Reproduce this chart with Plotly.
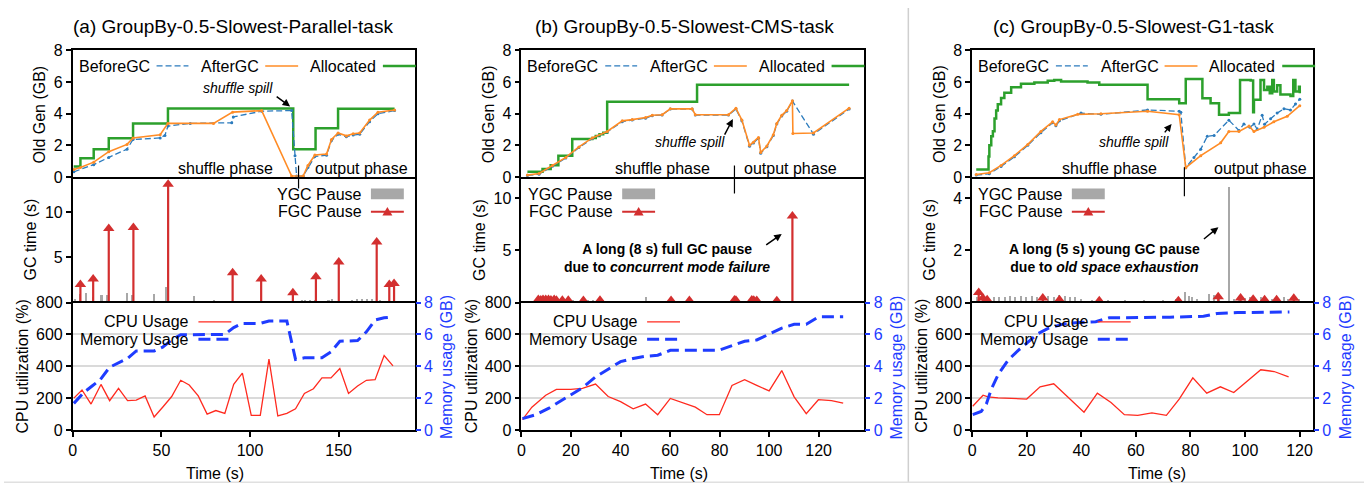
import plotly.graph_objects as go

# ---------------- data ----------------
panel_titles = ["(a) GroupBy-0.5-Slowest-Parallel-task",
                "(b) GroupBy-0.5-Slowest-CMS-task",
                "(c) GroupBy-0.5-Slowest-G1-task"]
x_ranges = [[0, 193], [0, 138.5], [0, 125]]
x_ticks = [[0, 50, 100, 150], [0, 20, 40, 60, 80, 100, 120], [0, 20, 40, 60, 80, 100, 120]]
gc_ranges = [13.9, 12.04, 4.81]
gc_ticks = [[5, 10], [5, 10], [2, 4]]
oldgen_ticks = [0, 2, 4, 6, 8]
cpu_ticks = [0, 200, 400, 600, 800]
mem_ticks = [0, 2, 4, 6, 8]
phase_split = [127.4, 86.0, 77.8]

# (a) Parallel
a_alloc_t = [0.5, 4.3, 11.8, 20.3, 34.0, 53.7, 124.4, 137.0, 149.7, 181.6]
a_alloc_v = [0.67, 1.18, 1.75, 2.45, 3.39, 4.33, 1.75, 3.08, 4.31, 4.31]
a_after_t = [0.6, 4.3, 11.8, 20.3, 30.6, 34.0, 49.3, 53.7, 79.4, 90.2, 106.6, 123.5, 130.0, 132.7,
             136.6, 143.2, 146.0, 149.7, 154.4, 158.2, 161.9, 167.5, 172.2, 181.6]
a_after_v = [0.47, 0.6, 0.94, 1.6, 2.06, 2.47, 2.67, 3.39, 3.39, 4.1, 4.2, 0.06, 0.06, 0.73,
             1.39, 1.45, 2.37, 2.78, 2.6, 2.73, 2.78, 3.6, 4.1, 4.24]
a_before_t = [0.6, 11.8, 20.3, 30.6, 34.0, 49.3, 52.0, 53.7, 66.3, 89.7, 90.6, 106.6, 123.5, 125.4,
              126.3, 130.0, 132.7, 136.6, 143.2, 146.0, 149.7, 154.4, 158.2, 161.9, 167.5, 172.2, 181.6]
a_before_v = [0.33, 0.78, 1.24, 1.76, 2.37, 2.47, 2.63, 3.22, 3.39, 3.43, 3.8, 4.16, 4.2, 1.35,
              0.06, 0.06, 0.6, 1.3, 1.38, 2.3, 2.7, 2.55, 2.65, 2.7, 3.5, 4.0, 4.2]
a_ygc_t = [1.5, 4.3, 7.7, 11.5, 16.2, 19.4, 30.6, 33.5, 46.0, 52.6, 68.6, 79.9, 90.8, 126.5, 129.3,
           131.2, 134.0, 136.9, 141.6, 144.3, 146.2, 149.0, 152.8, 157.5, 160.3, 163.2, 166.0,
           168.8, 173.5, 177.3, 181.0]
a_ygc_v = [0.43, 0.96, 1.04, 0.6, 0.79, 0.79, 1.07, 0.86, 0.96, 1.68, 0.71, 0.25, 0.2, 0.2, 0.25,
           0.3, 0.3, 0.25, 0.2, 0.3, 0.35, 0.2, 0.15, 0.3, 0.35, 0.4, 0.4, 0.35, 0.3, 0.2, 0.15]
a_fgc_t = [4.3, 11.5, 20.3, 34.2, 53.8, 90.2, 106.3, 124.2, 137.2, 150.1, 171.5, 178.6, 181.3]
a_fgc_v = [2.0, 2.6, 8.2, 8.3, 13.1, 3.3, 2.6, 1.07, 2.86, 4.5, 6.7, 2.0, 2.1]
a_cpu_t = [0.6, 5.2, 10.3, 15.9, 20.8, 25.8, 30.9, 35.8, 40.8, 45.9, 50.7, 55.8, 60.9, 65.7, 70.8,
           75.8, 80.7, 85.8, 90.8, 95.7, 100.7, 105.8, 110.7, 115.7, 120.8, 125.7, 130.7, 135.8,
           140.6, 145.7, 150.7, 155.6, 160.7, 165.7, 170.6, 175.7, 180.7]
a_cpu_v = [200, 251, 163, 286, 184, 261, 184, 188, 214, 82, 143, 210, 312, 282, 214, 100, 122, 104,
           286, 357, 92, 92, 445, 88, 104, 133, 229, 259, 327, 327, 386, 229, 276, 312, 316, 467, 402]
a_mem_t = [0.6, 6.2, 10.9, 15.5, 20.8, 25.8, 30.9, 35.8, 45.9, 50.7, 55.8, 60.9, 85.8, 90.8, 95.7,
           105.8, 110.7, 120.8, 125.7, 130.7, 140.6, 145.7, 150.7, 160.7, 165.7, 170.6, 175.7, 180.7]
a_mem_v = [1.67, 2.35, 2.76, 3.16, 3.94, 4.22, 4.49, 4.96, 4.96, 5.2, 5.65, 5.98, 6.0, 6.43, 6.69,
           6.69, 6.84, 6.84, 4.43, 4.53, 4.53, 4.9, 5.57, 5.61, 6.16, 6.9, 7.04, 7.1]

# (b) CMS
b_alloc_t = [2.4, 8.5, 11.8, 14.9, 20.5, 28.6, 30.0, 31.5, 33.0, 34.6, 70.9, 132.3]
b_alloc_v = [0.33, 0.5, 0.75, 1.35, 2.41, 2.47, 2.6, 2.7, 2.8, 4.76, 5.84, 5.84]
b_after_t = [2.4, 7.1, 12.5, 17.9, 23.2, 28.6, 34.6, 40.7, 44.7, 50.1, 52.8, 56.8, 60.1, 68.9, 70.2,
             83.6, 86.6, 89.0, 92.1, 93.7, 95.7, 96.6, 99.1, 101.7, 103.1, 105.1, 107.1, 109.4,
             109.6, 117.9, 132.3]
b_after_v = [0.12, 0.22, 0.73, 1.24, 1.9, 2.47, 2.88, 3.55, 3.63, 3.76, 3.9, 3.94, 4.31, 4.31, 3.94,
             3.94, 4.35, 3.6, 2.0, 2.2, 2.5, 1.55, 1.96, 2.67, 3.39, 3.9, 4.2, 4.82, 2.75, 2.78, 4.35]
b_before_t = [2.4, 7.1, 12.5, 17.9, 23.2, 28.6, 34.6, 40.7, 44.7, 50.1, 52.8, 56.8, 60.1, 68.9, 70.2,
              83.6, 86.6, 89.0, 92.1, 93.7, 95.7, 96.6, 99.1, 101.7, 103.1, 105.1, 107.1, 109.4,
              117.9, 132.3]
b_before_v = [0.1, 0.18, 0.68, 1.2, 1.86, 2.43, 2.85, 3.5, 3.6, 3.72, 3.88, 3.92, 4.3, 4.3, 3.92,
              3.92, 4.3, 3.55, 1.95, 2.15, 2.45, 1.5, 1.92, 2.62, 3.35, 3.85, 4.15, 4.8, 2.71, 4.3]
b_ygc_t = [5.5, 7, 8.5, 10, 11.5, 13, 15, 17, 19, 21, 23, 25, 27, 29, 31, 33, 35, 38, 41, 44, 50.7,
           57, 63, 70, 76, 85, 88, 92, 97, 103, 120, 123, 126, 129, 132]
b_ygc_v = [0.15, 0.2, 0.18, 0.2, 0.22, 0.2, 0.18, 0.2, 0.15, 0.2, 0.18, 0.22, 0.2, 0.25, 0.3, 0.2,
           0.15, 0.12, 0.1, 0.1, 0.49, 0.1, 0.1, 0.1, 0.1, 0.15, 0.12, 0.15, 0.1, 0.1, 0.1, 0.1,
           0.1, 0.1, 0.1]
b_fgc_t = [6.8, 7.8, 8.7, 9.8, 10.9, 11.9, 13.2, 14.1, 16.5, 18.9, 25.0, 31.7, 60.4, 67.8, 86.0,
           86.6, 93.0, 93.8, 95.0, 103.1, 109.4]
b_fgc_v = [0.3, 0.25, 0.3, 0.28, 0.3, 0.25, 0.28, 0.22, 0.22, 0.22, 0.2, 0.22, 0.2, 0.2, 0.25,
           0.22, 0.25, 0.22, 0.2, 0.18, 8.3]
b_cpu_t = [0.4, 4.2, 9.8, 14.1, 19.9, 24.6, 29.9, 35.0, 40.0, 45.1, 50.1, 55.0, 60.1, 65.1, 70.2,
           74.9, 79.9, 85.0, 90.1, 95.0, 100.0, 105.1, 110.1, 115.0, 119.9, 125.2, 129.9]
b_cpu_v = [65, 143, 218, 255, 255, 261, 288, 210, 178, 133, 163, 96, 198, 173, 143, 96, 96, 280,
           316, 280, 245, 373, 208, 102, 190, 184, 169]
b_mem_t = [0.4, 5.8, 11.1, 17.9, 24.6, 29.9, 35.3, 40.0, 45.1, 50.1, 55.0, 60.1, 79.6, 85.0, 90.1,
           95.0, 100.0, 105.1, 110.1, 115.0, 119.9, 129.9]
b_mem_v = [0.71, 0.96, 1.37, 2.04, 2.65, 3.33, 3.82, 4.29, 4.49, 4.63, 4.69, 5.0, 5.0, 5.31, 5.57,
           5.65, 6.02, 6.39, 6.63, 6.63, 7.1, 7.1]

# (c) G1
c_alloc_t = [1.5, 6.0, 6.3, 7.0, 7.6, 8.2, 8.8, 9.4, 10.6, 11.8, 14.3, 17.9, 22.8, 27.7, 30.1, 32.6,
             42.3, 46.6, 64.3, 75.9, 78.3, 84.4, 87.4, 90.5, 94.1, 98.2, 102.1, 103.0, 103.3, 105.7,
             107.0, 108.2, 109.1, 110.0, 110.6, 111.8, 113.0, 115.5, 116.7, 117.7, 118.5, 119.8, 120.1]
c_alloc_v = [0.47, 1.3, 2.0, 2.57, 2.9, 3.7, 4.2, 4.6, 5.0, 5.33, 5.67, 5.9, 5.98, 6.08, 6.14, 6.04,
             5.98, 5.84, 4.92, 4.67, 6.2, 4.98, 4.67, 3.94, 4.04, 6.14, 6.1, 4.1, 4.88, 6.14,
             5.5, 5.7, 5.3, 6.14, 5.4, 5.8, 5.22, 5.22, 5.12, 6.14, 5.4, 5.7, 5.3]
c_after_t = [1.5, 6.3, 10.6, 15.5, 20.4, 25.2, 29.5, 30.7, 32.0, 38.7, 47.2, 64.3, 75.9, 78.3, 83.8,
             91.1, 94.1, 97.8, 101.5, 103.3, 107.0, 110.6, 115.5, 120.1]
c_after_v = [0.16, 0.27, 0.73, 1.35, 2.06, 2.88, 3.49, 3.29, 3.63, 3.96, 4.0, 4.16, 3.94, 0.59, 1.35,
             2.16, 2.88, 2.88, 3.22, 2.88, 3.14, 3.49, 3.84, 4.51]
c_before_t = [1.5, 6.3, 10.6, 15.5, 20.4, 25.2, 29.5, 30.7, 32.0, 39.9, 47.2, 64.3, 75.9, 76.5, 78.3,
              81.3, 83.8, 86.2, 88.7, 94.1, 97.8, 99.6, 101.8, 103.3, 104.5, 106.3, 107.2, 109.4,
              111.8, 114.3, 116.7, 118.5, 120.1]
c_before_v = [0.12, 0.2, 0.67, 1.28, 2.0, 2.8, 3.43, 3.24, 3.55, 4.04, 3.96, 4.24, 4.16, 4.1, 0.59,
              1.24, 1.76, 2.57, 2.63, 3.59, 2.94, 3.35, 3.14, 3.35, 3.02, 3.9, 3.33, 3.69, 4.04,
              4.31, 4.24, 4.61, 4.92]
c_ygc_t = [2, 4, 6, 8, 10, 12, 14, 16, 18, 20, 22, 24, 26, 28, 30, 32, 34, 36, 38, 40, 44, 50, 56, 63,
           70, 75, 78.3, 79.5, 80.7, 82.5, 86.8, 88.7, 90.5, 94.1, 96, 98, 100, 102, 104, 106, 108,
           110, 112, 114.3, 116, 118, 120]
c_ygc_v = [0.2, 0.25, 0.15, 0.2, 0.22, 0.2, 0.25, 0.22, 0.26, 0.2, 0.24, 0.22, 0.28, 0.25, 0.22,
           0.27, 0.25, 0.2, 0.2, 0.15, 0.1, 0.08, 0.08, 0.08, 0.1, 0.15, 0.42, 0.26, 0.2, 0.15, 0.34,
           0.3, 0.2, 4.43, 0.15, 0.2, 0.18, 0.2, 0.15, 0.2, 0.18, 0.15, 0.2, 0.22, 0.15, 0.18, 0.15]
c_fgc_t = [2.4, 3.9, 5.5, 25.9, 32.0, 46.6, 75.6, 90.2, 98.4, 103.0, 107.2, 111.6, 117.9]
c_fgc_v = [0.38, 0.17, 0.11, 0.17, 0.11, 0.07, 0.07, 0.22, 0.17, 0.13, 0.11, 0.11, 0.16]
c_cpu_t = [0.2, 4.0, 5.8, 9.5, 20.0, 24.9, 29.9, 41.0, 45.9, 50.9, 55.8, 60.7, 65.9, 71.2, 75.9,
           80.9, 86.0, 91.0, 95.9, 100.9, 105.8, 110.7, 116.0]
c_cpu_v = [149, 218, 208, 202, 194, 271, 290, 112, 231, 173, 96, 92, 108, 92, 194, 327, 231, 271,
           235, 306, 378, 367, 333]
c_mem_t = [0.2, 3.3, 5.2, 7.0, 9.5, 13.2, 16.9, 20.6, 24.3, 28.0, 33.0, 37.9, 45.3, 50.2, 60.1,
           72.5, 84.8, 89.8, 97.2, 109.5, 116.3]
c_mem_v = [0.96, 1.16, 1.63, 2.55, 3.47, 4.39, 5.0, 5.51, 6.06, 6.39, 6.63, 6.73, 6.8, 7.04, 7.04,
           7.08, 7.14, 7.31, 7.37, 7.41, 7.41]

panels = [
    dict(alloc=(a_alloc_t, a_alloc_v), after=(a_after_t, a_after_v), before=(a_before_t, a_before_v),
         ygc=(a_ygc_t, a_ygc_v), fgc=(a_fgc_t, a_fgc_v), cpu=(a_cpu_t, a_cpu_v), mem=(a_mem_t, a_mem_v)),
    dict(alloc=(b_alloc_t, b_alloc_v), after=(b_after_t, b_after_v), before=(b_before_t, b_before_v),
         ygc=(b_ygc_t, b_ygc_v), fgc=(b_fgc_t, b_fgc_v), cpu=(b_cpu_t, b_cpu_v), mem=(b_mem_t, b_mem_v)),
    dict(alloc=(c_alloc_t, c_alloc_v), after=(c_after_t, c_after_v), before=(c_before_t, c_before_v),
         ygc=(c_ygc_t, c_ygc_v), fgc=(c_fgc_t, c_fgc_v), cpu=(c_cpu_t, c_cpu_v), mem=(c_mem_t, c_mem_v)),
]

# ---------------- layout constants ----------------
W, H = 1364, 495
FONT = "Liberation Sans, Arial, Helvetica, sans-serif"
FS = 16
L = [69, 519, 971]
R = [412, 863, 1313]
ROW_PX = [(44, 175), (175, 305), (305, 437)]
C_BEFORE = "#2b7bbd"
C_AFTER = "#ff8c26"
C_ALLOC = "#2ca02c"
C_YGC = "#a8a8a8"
C_FGC = "#d32f2f"
C_CPU = "#ff2a1f"
C_MEM = "#1f3cff"
BAR_W = [0.9, 0.55, 0.5]
LW = 1.8


def fx(p):
    return p / W


def fy(p):
    return 1 - p / H


def axname(letter, k):
    return f"{letter}axis" if k == 1 else f"{letter}axis{k}"


def axref(letter, k):
    return letter if k == 1 else f"{letter}{k}"


fig = go.Figure()
lay = {}
shapes = []
ann = []

for p in range(3):
    d = panels[p]
    for r in range(3):
        k = p * 3 + r + 1
        xa = dict(domain=[fx(L[p]), fx(R[p])], range=x_ranges[p], anchor=axref('y', k),
                  showline=True, mirror=True, linecolor='black', linewidth=LW,
                  showgrid=False, zeroline=False)
        if r == 0:
            xa.update(showticklabels=False, ticks='')
        elif r == 1:
            xa.update(showticklabels=False, ticks='', showline=False)
        else:
            xa.update(tickmode='array', tickvals=x_ticks[p], ticks='outside', ticklen=5,
                      tickwidth=1.5, tickcolor='black', tickfont=dict(size=FS, color='black'))
        ya = dict(domain=[fy(ROW_PX[r][1]), fy(ROW_PX[r][0])], anchor=axref('x', k),
                  showline=True, mirror=True, linecolor='black', linewidth=LW,
                  zeroline=False, ticks='outside', ticklen=5, tickwidth=1.5, tickcolor='black',
                  tickfont=dict(size=FS, color='black'), tickmode='array', showgrid=False)
        if r == 0:
            ya.update(range=[0, 8], tickvals=oldgen_ticks)
        elif r == 1:
            ya.update(range=[0, gc_ranges[p]], tickvals=gc_ticks[p])
        else:
            ya.update(range=[0, 800], tickvals=cpu_ticks, showgrid=True, gridcolor='#dadada',
                      gridwidth=1.5)
        lay[axname('x', k)] = xa
        lay[axname('y', k)] = ya

    # secondary memory axis
    kb = p * 3 + 3
    k2 = 10 + p
    lay[axname('y', k2)] = dict(overlaying=axref('y', kb), side='right', anchor=axref('x', kb),
                                range=[0, 8], tickmode='array', tickvals=mem_ticks,
                                ticks='outside', ticklen=5, tickwidth=1.5, tickcolor=C_MEM,
                                tickfont=dict(size=FS, color=C_MEM), showgrid=False,
                                zeroline=False, showline=False)

    kt, km = p * 3 + 1, p * 3 + 2
    xt, yt = axref('x', kt), axref('y', kt)
    xm, ym = axref('x', km), axref('y', km)
    xb, yb = axref('x', kb), axref('y', kb)
    y2 = axref('y', k2)

    # --- Old gen panel ---
    fig.add_trace(go.Scatter(x=d['alloc'][0], y=d['alloc'][1], mode='lines', line_shape='hv',
                             line=dict(color=C_ALLOC, width=2.5), xaxis=xt, yaxis=yt,
                             name='Allocated', showlegend=False))
    fig.add_trace(go.Scatter(x=d['before'][0], y=d['before'][1], mode='lines+markers',
                             line=dict(color=C_BEFORE, width=1.3, dash='6px,3px'),
                             marker=dict(size=3, color=C_BEFORE), xaxis=xt, yaxis=yt,
                             name='BeforeGC', showlegend=False))
    fig.add_trace(go.Scatter(x=d['after'][0], y=d['after'][1], mode='lines+markers',
                             line=dict(color=C_AFTER, width=1.6),
                             marker=dict(size=3, color=C_AFTER), xaxis=xt, yaxis=yt,
                             name='AfterGC', showlegend=False))

    # --- GC pause panel ---
    fig.add_trace(go.Bar(x=d['ygc'][0], y=d['ygc'][1], width=BAR_W[p],
                         marker=dict(color=C_YGC, line=dict(width=0)),
                         xaxis=xm, yaxis=ym, name='YGC Pause', showlegend=False))
    ix, iy = [], []
    for t, v in zip(d['fgc'][0], d['fgc'][1]):
        ix += [t, t, None]
        iy += [0, v, None]
    fig.add_trace(go.Scatter(x=ix, y=iy, mode='lines', line=dict(color=C_FGC, width=2.2),
                             xaxis=xm, yaxis=ym, showlegend=False, hoverinfo='skip'))
    fig.add_trace(go.Scatter(x=d['fgc'][0], y=d['fgc'][1], mode='markers',
                             marker=dict(symbol='triangle-up', size=10, color=C_FGC),
                             xaxis=xm, yaxis=ym, name='FGC Pause', showlegend=False))

    # --- CPU / memory panel ---
    fig.add_trace(go.Scatter(x=d['cpu'][0], y=d['cpu'][1], mode='lines',
                             line=dict(color=C_CPU, width=1.3), xaxis=xb, yaxis=yb,
                             name='CPU Usage', showlegend=False))
    fig.add_trace(go.Scatter(x=d['mem'][0], y=d['mem'][1], mode='lines',
                             line=dict(color=C_MEM, width=3, dash='12px,6px'), xaxis=xb, yaxis=y2,
                             name='Memory Usage', showlegend=False))

    Lp = L[p]
    # phase divider
    div_y = [(163, 187), (163, 192), (165, 195)][p]
    shapes.append(dict(type='line', xref=xt, yref='paper', x0=phase_split[p], x1=phase_split[p],
                       y0=fy(div_y[1]), y1=fy(div_y[0]), line=dict(color='black', width=1.2)))

    # top legend
    for txt, tx_end, s0, s1, col, dash, wd in [
        ('BeforeGC', 79, 84, 116, C_BEFORE, '6px,3px', 1.3),
        ('AfterGC', 189, 193, 226, C_AFTER, 'solid', 1.6),
        ('Allocated', 306, 311, 344, C_ALLOC, 'solid', 2.5)]:
        ann.append(dict(text=txt, x=fx(Lp + tx_end), y=fy(61), xanchor='right', yanchor='middle'))
        shapes.append(dict(type='line', xref='paper', yref='paper', x0=fx(Lp + s0), x1=fx(Lp + s1),
                           y0=fy(60), y1=fy(60), line=dict(color=col, width=wd, dash=dash)))

    # middle legend
    gx = [292, 94, 93][p]
    ann.append(dict(text='YGC Pause', x=fx(Lp + gx), y=fy(193), xanchor='right', yanchor='middle'))
    ann.append(dict(text='FGC Pause', x=fx(Lp + gx), y=fy(211), xanchor='right', yanchor='middle'))
    s0, s1 = Lp + gx + 7, Lp + gx + 40
    shapes.append(dict(type='rect', xref='paper', yref='paper', x0=fx(s0), x1=fx(s1),
                       y0=fy(198), y1=fy(187), fillcolor=C_YGC, line=dict(width=0)))
    shapes.append(dict(type='line', xref='paper', yref='paper', x0=fx(s0), x1=fx(s1),
                       y0=fy(211), y1=fy(211), line=dict(color=C_FGC, width=2.2)))
    cx = (s0 + s1) / 2
    shapes.append(dict(type='path', xref='paper', yref='paper',
                       path=f"M {fx(cx-5)},{fy(215)} L {fx(cx+5)},{fy(215)} L {fx(cx)},{fy(206)} Z",
                       fillcolor=C_FGC, line=dict(width=0)))

    # bottom legend
    ann.append(dict(text='CPU Usage', x=fx(Lp + 119), y=fy(325), xanchor='right', yanchor='middle'))
    ann.append(dict(text='Memory Usage', x=fx(Lp + 119), y=fy(343), xanchor='right', yanchor='middle'))
    shapes.append(dict(type='line', xref='paper', yref='paper', x0=fx(Lp + 126), x1=fx(Lp + 159),
                       y0=fy(325), y1=fy(325), line=dict(color=C_CPU, width=1.3)))
    shapes.append(dict(type='line', xref='paper', yref='paper', x0=fx(Lp + 126), x1=fx(Lp + 159),
                       y0=fy(343), y1=fy(343), line=dict(color=C_MEM, width=3, dash='12px,6px')))

    # axis titles
    ann.append(dict(text='Old Gen (GB)', x=fx(Lp - 33.5), y=fy(110), textangle=-90,
                    xanchor='center', yanchor='middle'))
    ann.append(dict(text='GC time (s)', x=fx(Lp - 42.3), y=fy(240), textangle=-90,
                    xanchor='center', yanchor='middle'))
    ann.append(dict(text='CPU utilization (%)', x=fx(Lp - 50.7), y=fy(371), textangle=-90,
                    xanchor='center', yanchor='middle'))
    ann.append(dict(text='Memory usage (GB)', x=fx(R[p] + 32), y=fy(372), textangle=-90,
                    xanchor='center', yanchor='middle', font=dict(color=C_MEM)))
    ann.append(dict(text='Time (s)', x=fx([212, 677, 1156][p]), y=fy(482),
                    xanchor='center', yanchor='middle'))
    ann.append(dict(text=panel_titles[p], x=fx([230, 682, 1133][p]), y=fy(19),
                    xanchor='center', yanchor='middle', font=dict(size=19)))

    # phase labels
    ann.append(dict(text='shuffle phase', x=fx([222.5, 660, 1109][p]), y=fy(166),
                    xanchor='center', yanchor='middle'))
    ann.append(dict(text='output phase', x=fx([359, 789, 1260][p]), y=fy(166),
                    xanchor='center', yanchor='middle'))
    # shuffle spill
    sx, sy = [(235, 83), (688, 139), (1133, 139)][p]
    ann.append(dict(text='<i>shuffle spill</i>', x=fx(sx), y=fy(sy), xanchor='center',
                    yanchor='middle', font=dict(size=14)))
    hx, hy, tx, ty = [(287, 102, 272, 91), (731, 115, 722, 132), (1171, 120, 1163, 130)][p]
    ann.append(dict(text='', x=fx(hx), y=fy(hy), ax=tx - hx, ay=ty - hy, showarrow=True,
                    arrowhead=2, arrowsize=1, arrowwidth=1.5, arrowcolor='black'))

# long pause notes
ann.append(dict(text='<b>A long (8 s) full GC pause</b><br><b>due to <i>concurrent mode failure</i></b>',
                x=fx(665), y=fy(259), xanchor='center', yanchor='middle', font=dict(size=14)))
ann.append(dict(text='', x=fx(780), y=fy(234), ax=-17, ay=12, showarrow=True, arrowhead=2,
                arrowsize=1, arrowwidth=1.5, arrowcolor='black'))
ann.append(dict(text='<b>A long (5 s) young GC pause</b><br><b>due to <i>old space exhaustion</i></b>',
                x=fx(1104), y=fy(259), xanchor='center', yanchor='middle', font=dict(size=14)))
ann.append(dict(text='', x=fx(1218), y=fy(227), ax=-16, ay=13, showarrow=True, arrowhead=2,
                arrowsize=1, arrowwidth=1.5, arrowcolor='black'))

# page separators
shapes.append(dict(type='line', xref='paper', yref='paper', x0=fx(907), x1=fx(907), y0=fy(491), y1=1,
                   line=dict(color='#cfcfcf', width=1.5)))
shapes.append(dict(type='line', xref='paper', yref='paper', x0=0, x1=1, y0=fy(491), y1=fy(491),
                   line=dict(color='#e0e0e0', width=1.5)))

for a in ann:
    a.setdefault('xref', 'paper')
    a.setdefault('yref', 'paper')
    a.setdefault('showarrow', False)
    a.setdefault('font', dict())
    a['font'].setdefault('size', FS)
    a['font'].setdefault('color', 'black')

fig.update_layout(**lay)
fig.update_layout(width=W, height=H, margin=dict(l=0, r=0, t=0, b=0), autosize=False,
                  paper_bgcolor='white', plot_bgcolor='white', showlegend=False,
                  barmode='overlay', bargap=0,
                  font=dict(family=FONT, size=FS, color='black'),
                  shapes=shapes, annotations=ann)

fig.write_html("out.html", config={'displayModeBar': False})
